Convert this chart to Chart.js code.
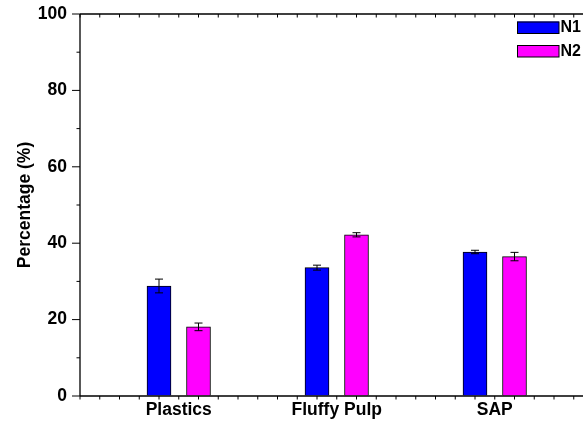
<!DOCTYPE html>
<html>
<head>
<meta charset="utf-8">
<script src="https://cdn.jsdelivr.net/npm/chart.js@4.4.1/dist/chart.umd.min.js"></script>
<style>
  html, body { margin: 0; padding: 0; overflow: hidden; background: #fff; width: 583px; height: 424px; }
  #wrap { position: absolute; left: 0; top: 0; width: 620px; height: 424px; }
</style>
</head>
<body>
<div id="wrap"><canvas id="c" width="620" height="424"></canvas></div>
<script>
// Composition of the two samples (mean percentage and error half-width)
const categories = ['Plastics', 'Fluffy Pulp', 'SAP'];
const seriesNames = ['N1', 'N2'];
const n1Values = [28.8, 33.6, 37.7];
const n1Errors = [1.8, 0.65, 0.45];
const n2Values = [18.1, 42.2, 36.5];
const n2Errors = [1.0, 0.55, 1.1];
const yTicks = [0, 20, 40, 60, 80, 100];

const FONT = '"Liberation Sans", Arial, Helvetica, sans-serif';
const BAR_SHIFT = 0.125;           // each series sits a small step left/right of its category
const X_MIN = 0.375, X_MAX = 3.625;
const PLOT = { top: 14, right: 593.5 };  // wanted plot-frame edges on the canvas

const toPoints = (vals, shift) => vals.map((v, i) => ({ x: i + 1 + shift, y: v }));

const axesAndErrors = {
  id: 'axesAndErrors',
  afterDatasetsDraw(chart) {
    const { ctx, chartArea: a, scales: { x, y } } = chart;
    ctx.save();
    ctx.strokeStyle = '#000';
    ctx.lineWidth = 1;

    // error bars
    chart.data.datasets.forEach(ds => {
      ds.errors.forEach((e, i) => {
        const p = ds.data[i];
        const px = x.getPixelForValue(p.x);
        const t = y.getPixelForValue(p.y + e);
        const b = y.getPixelForValue(p.y - e);
        ctx.beginPath();
        ctx.moveTo(px, t); ctx.lineTo(px, b);
        ctx.moveTo(px - 4, t); ctx.lineTo(px + 4, t);
        ctx.moveTo(px - 4, b); ctx.lineTo(px + 4, b);
        ctx.stroke();
      });
    });

    // frame lines
    ctx.lineWidth = 1.3;
    ctx.beginPath();
    ctx.moveTo(a.left, a.top); ctx.lineTo(a.left, a.bottom);
    ctx.moveTo(a.left, a.bottom); ctx.lineTo(a.right, a.bottom);
    ctx.moveTo(a.left, a.top); ctx.lineTo(a.right, a.top);
    ctx.stroke();

    // tick marks
    ctx.lineWidth = 1;
    ctx.beginPath();
    for (let v = 0; v <= 100; v += 10) {
      const py = y.getPixelForValue(v);
      const len = v % 20 === 0 ? 8 : 3.5;
      ctx.moveTo(a.left - len, py); ctx.lineTo(a.left, py);
    }
    for (let k = 0; X_MIN + k * 0.125 <= X_MAX + 1e-9; k++) {
      const px = x.getPixelForValue(X_MIN + k * 0.125);
      ctx.moveTo(px, a.bottom); ctx.lineTo(px, a.bottom + 3.5);
      ctx.moveTo(px, a.top); ctx.lineTo(px, a.top + 3.5);
    }
    ctx.stroke();

    // legend
    ctx.font = 'bold 16px ' + FONT;
    ctx.textBaseline = 'middle';
    ctx.textAlign = 'left';
    chart.data.datasets.forEach((ds, i) => {
      const top = 21.5 + i * 23.5;
      ctx.fillStyle = ds.backgroundColor;
      ctx.fillRect(517, top, 42, 12);
      ctx.strokeRect(517.5, top + 0.5, 41.5, 11.5);
      ctx.fillStyle = '#000';
      ctx.fillText(ds.label, 560.5, top + 6.5);
    });
    ctx.restore();
  }
};

const chart = new Chart(document.getElementById('c'), {
  type: 'bar',
  data: {
    datasets: [
      { label: seriesNames[0], data: toPoints(n1Values, -BAR_SHIFT), errors: n1Errors,
        backgroundColor: '#0000FF', borderColor: '#000', borderWidth: 1 },
      { label: seriesNames[1], data: toPoints(n2Values, BAR_SHIFT), errors: n2Errors,
        backgroundColor: '#FF00FF', borderColor: '#000', borderWidth: 1 }
    ]
  },
  options: {
    responsive: false,
    animation: false,
    grouped: false,
    barThickness: 24,
    layout: { padding: { top: 14, right: 26.5, left: 0, bottom: 0 } },
    plugins: { legend: { display: false }, tooltip: { enabled: false } },
    scales: {
      x: {
        type: 'linear', min: X_MIN, max: X_MAX, offset: false,
        grid: { display: true, drawOnChartArea: false, drawTicks: true, tickLength: 4, tickColor: 'rgba(0,0,0,0)', color: 'rgba(0,0,0,0)' },
        border: { display: false },
        afterBuildTicks: s => { s.ticks = categories.map((_, i) => ({ value: i + 1 })); },
        afterFit: s => { s.height = 28; },
        ticks: {
          autoSkip: false, maxRotation: 0, padding: 0, color: '#000',
          font: { family: FONT, size: 17.5, weight: 'bold' },
          callback: v => categories[Math.round(v) - 1] ?? ''
        }
      },
      y: {
        min: 0, max: 100,
        grid: { display: true, drawOnChartArea: false, drawTicks: true, tickLength: 13, tickColor: 'rgba(0,0,0,0)', color: 'rgba(0,0,0,0)' },
        border: { display: false },
        afterBuildTicks: s => { s.ticks = yTicks.map(v => ({ value: v })); },
        afterFit: s => { s.width = 80; },
        ticks: {
          padding: 0, color: '#000',
          font: { family: FONT, size: 17.5, weight: 'bold' }
        },
        title: {
          display: true, text: 'Percentage (%)', color: '#000',
          padding: { top: 15, bottom: 0 },
          font: { family: FONT, size: 17.5, weight: 'bold' }
        }
      }
    }
  },
  plugins: [axesAndErrors]
});

// nudge the layout padding until the plot frame lands on the wanted edges
for (let k = 0; k < 4; k++) {
  const a = chart.chartArea;
  const p = chart.config.options.layout.padding;
  p.top = Math.max(0, p.top + PLOT.top - a.top);
  p.right = Math.max(0, p.right + a.right - PLOT.right);
  chart.update('none');
}
</script>
</body>
</html>
